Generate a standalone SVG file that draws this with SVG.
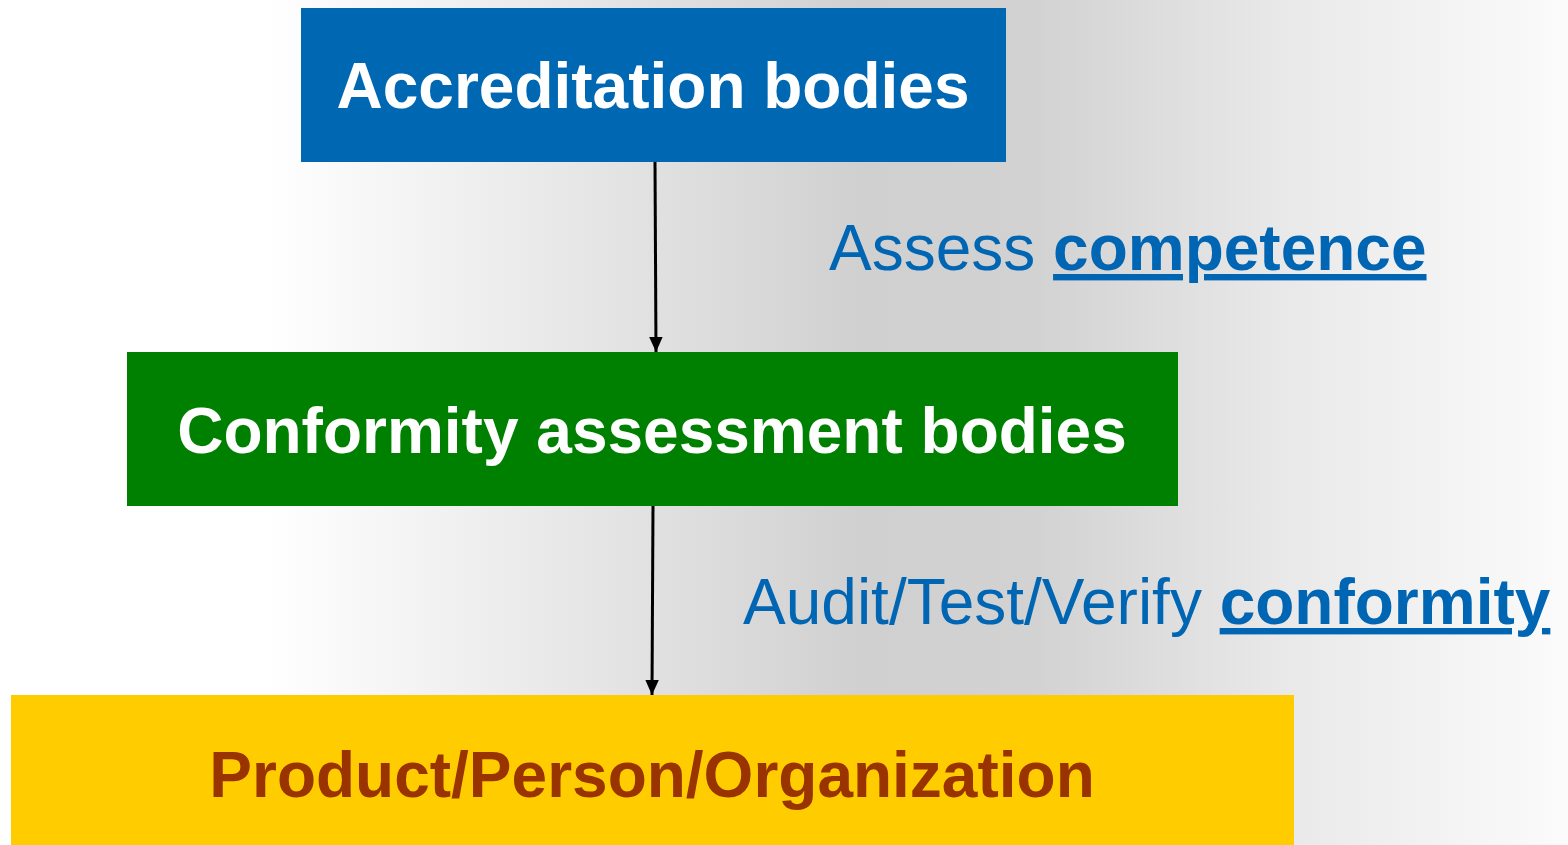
<svg xmlns="http://www.w3.org/2000/svg" width="1568" height="845" viewBox="0 0 1568 845">
<defs>
<linearGradient id="bg" x1="0" y1="0" x2="1" y2="0">
<stop offset="0" stop-color="#ffffff"/>
<stop offset="0.17" stop-color="#ffffff"/>
<stop offset="0.36" stop-color="#e8e8e8"/>
<stop offset="0.55" stop-color="#d0d0d0"/>
<stop offset="0.66" stop-color="#d2d2d2"/>
<stop offset="0.82" stop-color="#e9e9e9"/>
<stop offset="1" stop-color="#fbfbfb"/>
</linearGradient>
<marker id="ah" viewBox="0 0 10 10" refX="10" refY="5" markerWidth="5" markerHeight="5" orient="auto" markerUnits="strokeWidth">
<path d="M0,0.5 L10,5 L0,9.5 z" fill="#000"/>
</marker>
</defs>
<style>
.lbl{font-family:"Liberation Sans",Arial,sans-serif;font-size:64px;font-weight:bold;text-anchor:middle}
.edge{font-family:"Liberation Sans",Arial,sans-serif;font-size:64px;fill:#0066b3}
.b{font-weight:bold;text-decoration:underline}
.conn{stroke:#000;stroke-width:3;fill:none}
</style>
<rect x="0" y="0" width="1568" height="845" fill="url(#bg)"/>
<g id="connectors">
<line class="conn" x1="655" y1="162" x2="656" y2="352" marker-end="url(#ah)"/>
<line class="conn" x1="653" y1="506" x2="652" y2="695" marker-end="url(#ah)"/>
<text class="edge" x="829" y="270">Assess <tspan class="b">competence</tspan></text>
<text class="edge" x="743" y="624">Audit/Test/Verify <tspan class="b">conformity</tspan></text>
</g>
<g id="accreditation">
<rect x="301" y="8" width="705" height="154" fill="#0067b3"/>
<text class="lbl" x="653" y="108" fill="#ffffff">Accreditation bodies</text>
</g>
<g id="cab">
<rect x="127" y="352" width="1051" height="154" fill="#008000"/>
<text class="lbl" x="652" y="453" fill="#ffffff">Conformity assessment bodies</text>
</g>
<g id="product">
<rect x="11" y="695" width="1283" height="150" fill="#ffcc00"/>
<text class="lbl" x="652" y="797" fill="#993300">Product/Person/Organization</text>
</g>
</svg>
